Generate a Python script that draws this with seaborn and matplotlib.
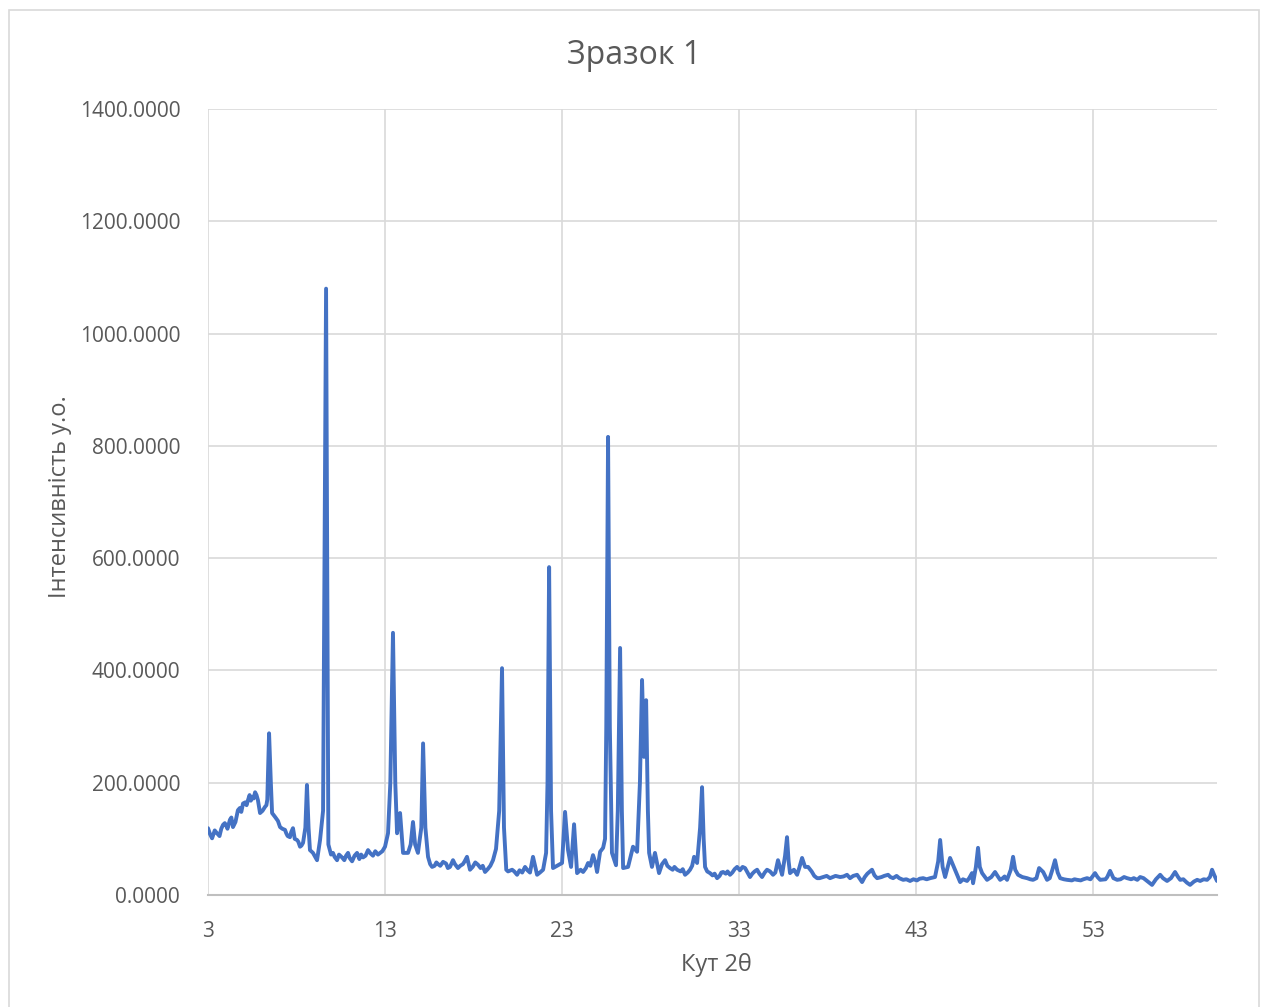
import matplotlib
matplotlib.use("Agg")
import pandas as pd
import seaborn as sb
from matplotlib import pyplot as plt
from matplotlib.patches import Rectangle
from matplotlib.ticker import FormatStrFormatter

# --- data (angle 2θ, intensity) ---
# peaks and main shape
angle = [
    3.00, 3.23, 3.51, 3.85, 4.10, 4.24, 4.41, 4.69, 4.98, 5.26, 5.50, 5.66, 5.82, 5.94,
    6.22, 6.35, 6.45, 6.55, 6.62, 6.79, 7.07, 7.35, 7.50, 7.63, 7.80, 8.03, 8.20, 8.37,
    8.50, 8.59, 8.68, 8.76, 8.93, 9.16, 9.33, 9.50, 9.67, 9.80, 10.06, 10.29, 10.57,
    10.91, 11.14, 11.42, 11.76, 12.04, 12.32, 12.72, 13.00, 13.17, 13.30, 13.45, 13.58,
    13.68, 13.85, 14.02, 14.30, 14.45, 14.58, 14.70, 14.86, 15.05, 15.15, 15.28, 15.43,
    15.66, 16.00, 16.28, 16.67, 16.84, 17.12, 17.40, 17.63, 17.80, 18.25, 18.65, 19.10,
    19.27, 19.45, 19.61, 19.72, 19.85, 20.18, 20.46, 20.91, 21.19, 21.36, 21.59, 21.93,
    22.10, 22.18, 22.27, 22.38, 22.49, 22.77, 23.00, 23.17, 23.34, 23.51, 23.68, 23.85,
    24.19, 24.47, 24.75, 24.98, 25.15, 25.32, 25.43, 25.50, 25.60, 25.70, 25.82, 26.05,
    26.15, 26.28, 26.38, 26.45, 26.73, 27.01, 27.24, 27.40, 27.52, 27.63, 27.75, 27.85,
    27.92, 28.08, 28.25, 28.48, 28.82, 29.10, 29.50, 29.95, 30.23, 30.46, 30.63, 30.80,
    30.91, 31.00, 31.08, 31.36, 31.76, 32.10, 32.49, 32.89, 33.34, 33.62, 34.02, 34.30,
    34.58, 34.92, 35.20, 35.43, 35.60, 35.71, 35.80, 35.88, 36.28, 36.56, 36.73, 36.90,
    37.41, 37.75, 38.14, 38.71, 39.10, 39.27, 39.67, 39.95, 40.51, 40.80, 41.42, 41.70,
    42.27, 42.66, 43.40, 44.07, 44.25, 44.36, 44.50, 44.64, 44.92, 45.20, 45.49, 45.88,
    46.16, 46.22, 46.38, 46.50, 46.60, 46.73, 47.01, 47.46, 47.75, 48.14, 48.35, 48.48,
    48.60, 48.76, 49.27, 49.61, 49.95, 50.18, 50.40, 50.70, 50.85, 51.00, 51.14, 51.53,
    52.10, 52.66, 53.11, 53.40, 53.96, 54.36, 54.92, 55.66, 56.33, 56.79, 57.18, 57.63,
    57.92, 58.48, 58.88, 59.44, 59.72, 60.00,
]
intensity = [
    119, 101, 110, 125, 118, 134, 121, 151, 163, 169, 175, 183, 169, 146,
    157, 170, 288, 200, 146, 139, 121, 116, 105, 103, 119, 98, 86, 93,
    120, 196, 120, 80, 75, 62, 98, 150, 1080, 90, 75, 62, 67,
    75, 60, 75, 67, 80, 70, 75, 86, 110, 200, 467, 200,
    110, 146, 75, 75, 90, 130, 90, 75, 120, 270, 120, 68,
    50, 55, 59, 50, 62, 48, 55, 68, 45, 54, 41, 62,
    82, 150, 404, 120, 45, 45, 36, 50, 40, 68, 36, 45,
    75, 200, 584, 150, 48, 53, 57, 148, 80, 50, 126, 39,
    41, 57, 71, 41, 77, 84, 100, 300, 816, 300, 75, 53,
    150, 440, 150, 48, 50, 86, 77, 200, 383, 246, 347, 150,
    75, 50, 75, 39, 62, 48, 45, 36, 45, 68, 57, 120,
    192, 100, 50, 39, 30, 41, 36, 50, 48, 32, 45, 32,
    45, 36, 62, 36, 70, 103, 60, 39, 36, 66, 50, 50,
    30, 32, 30, 32, 36, 30, 36, 23, 45, 30, 36, 30,
    27, 25, 30, 32, 60, 98, 50, 32, 66, 45, 23, 25,
    39, 21, 50, 84, 50, 39, 27, 41, 27, 27, 45, 68,
    45, 36, 30, 27, 48, 41, 27, 45, 62, 40, 30, 27,
    27, 30, 39, 27, 43, 27, 30, 32, 18, 36, 25, 41,
    27, 18, 27, 27, 45, 25,
]
# extra wiggles of the noisy background
angle_bg = [
    3.12, 3.38, 3.65, 3.75, 3.95, 4.05, 4.32, 4.55, 4.80, 4.88, 5.10, 5.18, 5.35, 5.42, 5.58, 5.74, 6.08, 6.30,
    6.95, 7.20, 7.42, 7.70, 7.90, 8.10, 8.28,
    9.95, 10.15, 10.40, 10.70, 10.80, 11.00, 11.28, 11.55, 11.65, 11.90, 12.18, 12.45, 12.60, 12.85,
    15.55, 15.80, 15.90, 16.12, 16.45, 16.55, 16.95, 17.25, 17.50, 17.95, 18.10, 18.40, 18.52, 18.80, 18.95,
    19.95, 20.30, 20.60, 20.75, 21.05, 21.75,
    24.05, 24.35, 24.60, 24.88,
    28.65, 28.95, 29.25, 29.35, 29.70, 29.82, 30.10, 30.35,
    31.20, 31.50, 31.62, 31.90, 32.00, 32.25, 32.35, 32.62, 32.75, 33.05, 33.20, 33.48, 33.75, 33.88,
    34.15, 34.45, 34.75, 35.05,
    36.10, 36.40, 37.10, 37.25, 37.55, 37.95, 38.30, 38.45, 38.90, 39.45, 39.80, 40.10, 40.25, 40.65,
    41.05, 41.20, 41.55, 41.90, 42.05, 42.45, 42.85, 43.05, 43.20, 43.60, 43.80,
    45.65, 46.00, 47.25, 47.60, 47.90, 48.00, 49.00, 49.45, 49.80, 50.55, 51.35, 51.80, 51.95, 52.30,
    52.45, 52.85, 53.25, 53.70, 53.80, 54.15, 54.55, 54.75, 55.15, 55.30, 55.50, 55.85, 56.05, 56.55,
    56.95, 57.40, 57.80, 58.10, 58.30, 58.70, 59.05, 59.25, 59.60, 59.85,
]
intensity_bg = [
    108, 115, 105, 118, 128, 122, 138, 130, 155, 148, 165, 160, 178, 168, 172, 178, 150, 160,
    132, 118, 110, 112, 100, 95, 88,
    72, 68, 72, 62, 70, 66, 70, 64, 72, 70, 74, 78, 72, 78,
    55, 52, 58, 52, 56, 48, 55, 52, 60, 50, 58, 48, 52, 46, 52,
    42, 42, 44, 40, 44, 40,
    45, 48, 52, 58,
    55, 52, 45, 50, 42, 46, 40, 52,
    42, 35, 38, 34, 40, 38, 42, 40, 46, 44, 50, 40, 38, 42,
    38, 40, 42, 40,
    45, 48, 42, 34, 30, 34, 32, 34, 33, 34, 30, 32, 38, 35,
    32, 34, 32, 34, 30, 28, 28, 26, 29, 28, 30,
    28, 30, 32, 34, 30, 33, 32, 28, 30, 30, 28, 26, 28, 26,
    28, 28, 32, 28, 32, 30, 28, 32, 28, 30, 27, 30, 25, 28,
    30, 30, 32, 28, 22, 24, 25, 28, 32, 35,
]
x_ticks = [3, 13, 23, 33, 43, 53]
y_ticks = [0, 200, 400, 600, 800, 1000, 1200, 1400]

title = "Зразок 1"
x_label = "Кут 2θ"
y_label = "Інтенсивність у.о."

# --- style ---
sb.set_style("white")
plt.rcParams["font.family"] = ["Open Sans", "DejaVu Sans"]
text_color = "#595959"
line_color = "#4472C4"
grid_color = "#D9D9D9"

fig = plt.figure(figsize=(12.64, 10.07), dpi=100)
ax = fig.add_axes([208 / 1264, 1 - 895 / 1007, 1009 / 1264, 786 / 1007])

df = pd.DataFrame({"angle": angle + angle_bg, "intensity": intensity + intensity_bg})
df = df.sort_values("angle").reset_index(drop=True)
sb.lineplot(data=df, x="angle", y="intensity", ax=ax, color=line_color,
            linewidth=2.8, estimator=None, sort=False)

ax.set_xlim(3, 60)
ax.set_ylim(0, 1400)
ax.set_xticks(x_ticks)
ax.set_yticks(y_ticks)
ax.yaxis.set_major_formatter(FormatStrFormatter("%.4f"))
ax.tick_params(axis="both", length=0, labelsize=15, labelcolor=text_color)
ax.tick_params(axis="x", pad=19)
ax.tick_params(axis="y", pad=20)

ax.grid(True, color=grid_color, linewidth=1.2)
ax.set_axisbelow(True)
for side in ["top", "right", "left"]:
    ax.spines[side].set_visible(False)
ax.spines["bottom"].set_color("#BFBFBF")
ax.spines["bottom"].set_linewidth(1.5)

ax.set_xlabel(x_label, fontsize=17, color=text_color, va="center")
ax.set_ylabel(y_label, fontsize=17, color=text_color, va="center")
ax.xaxis.set_label_coords((716 - 208) / 1009, -(965 - 895) / 786)
ax.yaxis.set_label_coords(-(208 - 60) / 1009, (895 - 497) / 786)

fig.text(634 / 1264, 1 - 55 / 1007, title, ha="center", va="center",
         fontsize=23, color=text_color)

# outer chart border
fig.patches.append(Rectangle((9 / 1264, -0.01), 1250 / 1264, 1 - 10 / 1007 + 0.01,
                             transform=fig.transFigure, fill=False,
                             edgecolor="#D9D9D9", linewidth=1.2))

fig.savefig("out.png", dpi=100)
plt.close(fig)
